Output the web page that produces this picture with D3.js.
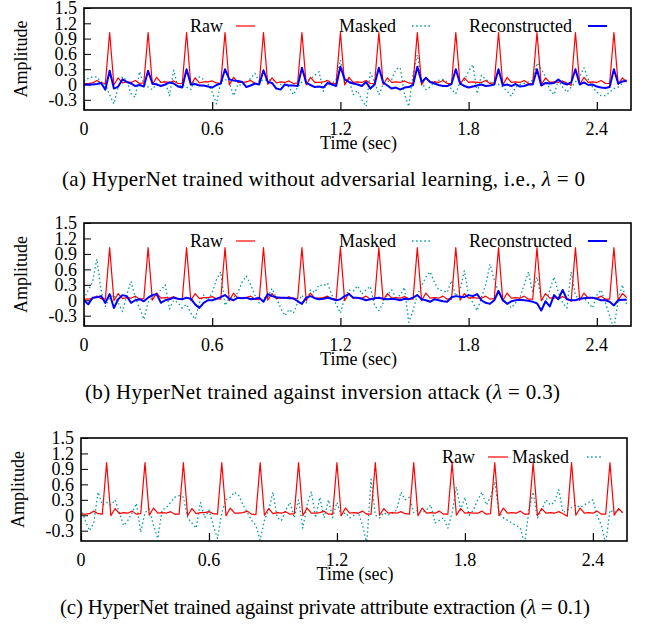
<!DOCTYPE html>
<html>
<head>
<meta charset="utf-8">
<script src="https://cdn.jsdelivr.net/npm/d3@7"></script>
<style>
    body { margin: 0; background: #fff; }
    svg text { font-family: "Liberation Serif", "Times New Roman", serif; fill: #000; }
</style>
</head>
<body>
<div id="chart"></div>
<script>
// 128 samples at 50 Hz
const timeStep = 0.02;
const xTicks = [0, 0.6, 1.2, 1.8, 2.4];
const yTicks = [-0.3, 0, 0.3, 0.6, 0.9, 1.2, 1.5];

const rawSignal = [
    0.02, 0.02, 0.03, 0.08, 0.03, 0.02, 1.02, -0.01, 0.13, 0.03, 0.05, 0.04, 0.08, 0.02, 0.03, 1.02,
    0.00, 0.14, 0.04, 0.05, 0.04, 0.07, 0.02, 0.02, 1.02, -0.01, 0.13, 0.03, 0.05, 0.05, 0.07, 0.03,
    0.02, 1.02, -0.01, 0.14, 0.04, 0.04, 0.05, 0.08, 0.02, 0.01, 1.02, 0.00, 0.13, 0.03, 0.05, 0.04,
    0.07, 0.02, 0.03, 1.02, -0.01, 0.14, 0.04, 0.04, 0.05, 0.08, 0.02, 0.02, 1.02, -0.01, 0.14, 0.04,
    0.05, 0.04, 0.08, 0.02, 0.02, 1.02, 0.00, 0.13, 0.04, 0.05, 0.04, 0.07, 0.03, 0.02, 1.02, -0.01,
    0.14, 0.04, 0.05, 0.04, 0.08, 0.02, 0.02, 1.02, 0.00, 0.13, 0.04, 0.05, 0.04, 0.04, 0.08, 0.02,
    0.03, 1.02, -0.01, 0.14, 0.04, 0.05, 0.04, 0.08, 0.02, 0.02, 1.02, -0.01, 0.13, 0.04, 0.05, 0.04,
    0.07, 0.03, -0.02, 1.02, 0.00, 0.14, 0.04, 0.05, 0.04, 0.08, 0.02, 0.02, 1.02, 0.00, 0.13, 0.05
];

const maskedA = [
    0.06, 0.12, 0.15, 0.15, 0.05, 0.00, -0.20, -0.38, -0.05, 0.15, 0.08, -0.18, -0.25, 0.25, 0.02, -0.05,
    -0.10, 0.02, 0.05, 0.06, -0.22, 0.28, -0.05, 0.00, -0.05, -0.10, 0.12, 0.15, 0.10, 0.02, -0.15, -0.38,
    0.05, 0.10, 0.05, -0.22, 0.00, -0.02, 0.05, 0.12, 0.22, 0.05, 0.10, 0.08, 0.10, 0.05, 0.00, 0.00,
    -0.05, -0.20, -0.05, 0.05, 0.08, 0.10, 0.18, 0.25, -0.13, 0.05, 0.02, 0.10, 0.48, 0.02, 0.10, -0.20,
    -0.12, -0.30, -0.43, 0.23, 0.05, -0.20, 0.00, 0.05, 0.10, 0.30, 0.33, -0.20, -0.43, 0.20, 0.58, 0.05,
    -0.10, -0.05, 0.05, 0.08, 0.10, 0.05, -0.10, -0.18, 0.05, 0.08, 0.26, 0.39, -0.18, 0.18, 0.10, 0.05,
    0.02, 0.00, -0.05, -0.13, -0.23, -0.05, 0.00, 0.02, 0.05, 0.08, 0.42, 0.30, 0.15, -0.10, -0.20, 0.08,
    -0.05, -0.15, -0.05, 0.05, 0.15, 0.33, 0.10, -0.05, -0.15, -0.22, -0.22, -0.15, -0.08, -0.05, 0.02, 0.10
];

const reconA = [
    0.00, 0.00, 0.00, 0.01, 0.03, -0.10, 0.27, -0.08, -0.04, 0.10, 0.05, 0.02, -0.03, -0.01, -0.04, 0.27,
    0.02, 0.00, -0.03, 0.00, 0.04, 0.02, -0.04, -0.06, 0.30, 0.00, 0.01, -0.02, -0.02, -0.04, -0.06, -0.01,
    0.02, 0.30, 0.10, 0.08, 0.07, 0.05, -0.05, -0.02, 0.02, 0.00, 0.28, 0.05, 0.03, -0.08, -0.10, 0.00,
    -0.02, -0.02, -0.03, 0.33, 0.03, -0.01, -0.05, -0.04, -0.06, 0.03, 0.00, -0.03, 0.35, 0.10, 0.05, 0.02,
    0.00, -0.03, 0.05, -0.08, 0.00, 0.33, 0.04, -0.02, -0.08, -0.06, -0.10, -0.06, -0.05, -0.01, 0.35, 0.05,
    0.13, 0.05, 0.02, -0.01, -0.03, -0.03, 0.01, 0.30, 0.02, -0.03, -0.06, -0.04, -0.02, 0.00, -0.03, -0.02,
    0.00, 0.30, -0.02, 0.00, -0.03, 0.01, -0.04, -0.03, 0.00, 0.00, 0.30, -0.02, 0.03, 0.02, 0.03, 0.10,
    0.03, 0.00, 0.04, 0.30, 0.00, 0.04, -0.01, 0.00, -0.04, -0.06, -0.07, -0.05, 0.30, 0.02, 0.06, 0.08
];

const maskedB = [
    0.02, 0.20, 0.35, 0.80, 0.20, -0.12, 0.05, 0.10, -0.05, -0.22, 0.10, 0.37, 0.05, -0.15, -0.37, -0.04,
    0.05, 0.12, 0.20, 0.30, -0.17, 0.00, -0.05, -0.15, -0.08, -0.25, -0.37, -0.05, 0.10, 0.00, 0.15, 0.40,
    0.55, -0.10, 0.05, 0.05, 0.15, 0.35, 0.47, 0.30, 0.10, -0.05, 0.05, 0.05, 0.23, 0.05, -0.15, -0.30,
    -0.18, -0.25, -0.05, 0.10, -0.05, 0.20, 0.15, 0.30, 0.28, 0.33, 0.10, -0.08, -0.25, 0.05, 0.20, 0.18,
    0.28, 0.12, 0.20, 0.27, -0.10, -0.20, -0.05, 0.10, 0.20, 0.05, 0.10, 0.25, -0.43, -0.20, 0.10, 0.28,
    0.45, 0.55, 0.35, 0.20, 0.18, 0.15, 0.38, 0.08, 0.20, 0.57, 0.10, -0.05, -0.20, 0.05, 0.30, 0.70,
    0.40, 0.15, 0.03, -0.05, -0.15, -0.05, 0.05, 0.30, 0.55, 0.15, 0.45, 0.05, -0.05, 0.20, 0.45, 0.15,
    -0.05, -0.15, 0.55, 0.10, 0.00, 0.05, -0.05, -0.15, 0.10, 0.20, -0.05, -0.30, -0.55, 0.00, 0.30, -0.10
];

const reconB = [
    0.00, -0.08, 0.05, 0.06, 0.08, -0.05, 0.12, -0.15, 0.02, 0.10, 0.08, -0.05, 0.00, 0.02, -0.02, 0.05,
    0.10, 0.12, -0.05, 0.00, 0.02, 0.05, 0.03, 0.02, 0.05, 0.03, -0.08, -0.15, -0.05, 0.00, 0.00, 0.03,
    0.06, 0.10, 0.03, 0.00, 0.05, 0.04, 0.05, 0.02, 0.03, 0.05, -0.03, 0.12, 0.08, 0.06, 0.05, 0.05,
    0.04, 0.04, -0.02, -0.07, 0.05, 0.08, 0.04, 0.02, 0.03, 0.05, 0.03, 0.00, 0.02, 0.08, 0.12, 0.05,
    0.05, 0.03, 0.00, 0.02, 0.04, 0.05, 0.03, 0.02, 0.03, 0.02, 0.00, 0.03, 0.02, 0.05, 0.10, 0.02,
    0.00, -0.03, 0.02, 0.00, -0.02, -0.03, 0.06, 0.08, 0.07, 0.06, 0.10, 0.08, 0.12, 0.00, -0.05, -0.07,
    0.00, 0.18, 0.00, -0.07, -0.02, 0.00, 0.01, 0.00, -0.01, -0.03, -0.06, -0.20, -0.02, -0.12, 0.10, 0.02,
    0.20, 0.02, 0.00, 0.00, 0.03, 0.04, 0.05, 0.05, 0.03, 0.00, 0.00, -0.03, -0.10, 0.00, 0.01, 0.01
];

const maskedC = [
    0.13, -0.10, -0.30, -0.15, 0.45, 0.20, 0.25, 0.20, 0.30, 0.05, -0.20, -0.10, 0.05, 0.23, -0.33, 0.05,
    0.12, -0.20, -0.45, 0.10, 0.15, 0.25, 0.35, 0.38, 0.35, -0.05, -0.15, -0.25, 0.25, -0.05, 0.10, -0.20,
    -0.45, 0.05, 0.30, 0.35, 0.45, 0.38, 0.20, 0.05, -0.10, -0.20, -0.48, -0.10, 0.10, 0.45, -0.05, -0.10,
    0.10, 0.25, -0.05, 0.30, -0.25, 0.20, 0.45, -0.05, 0.35, -0.05, 0.30, -0.05, 0.25, 0.00, 0.05, -0.05,
    0.00, 0.05, -0.20, -0.55, 0.70, 0.00, -0.05, 0.05, 0.00, 0.05, 0.10, 0.45, 0.30, 0.35, 0.05, 0.10,
    0.05, 0.10, 0.20, -0.15, -0.10, -0.05, -0.25, 0.05, 0.55, 0.10, 0.35, 0.00, 0.10, 0.30, 0.45, 0.20,
    0.35, 0.65, 0.05, -0.05, -0.10, -0.15, -0.20, -0.25, -0.55, 0.10, 0.45, -0.05, 0.10, 0.30, 0.20, 0.25,
    0.50, 0.05, 0.10, 0.15, 0.20, 0.15, 0.20, 0.25, 0.30, 0.00, -0.20, -0.55, 0.10, 0.05, 0.10, 0.05
];

const seriesStyle = {
    Raw: { color: "#ff0000", width: 1.2, dash: null },
    Masked: { color: "#009b9b", width: 1.3, dash: "1.5,2.6" },
    Reconstructed: { color: "#0000ff", width: 2, dash: null }
};

const panels = [
    {
        box: { left: 84, right: 631, top: 8, bottom: 110 },
        series: [["Raw", rawSignal], ["Masked", maskedA], ["Reconstructed", reconA]],
        drawOrder: ["Masked", "Raw", "Reconstructed"],
        legend: [{ name: "Raw", textEnd: 223, x1: 236, x2: 255 },
                 { name: "Masked", textEnd: 396, x1: 412, x2: 430 },
                 { name: "Reconstructed", textEnd: 572, x1: 588, x2: 607 }],
        legendY: 18,
        caption: ["(a) HyperNet trained without adversarial learning, i.e., ", "λ", " = 0"],
        captionX: 62, captionW: 523,
        captionY: 186
    },
    {
        box: { left: 84, right: 631, top: 223, bottom: 326 },
        series: [["Raw", rawSignal], ["Masked", maskedB], ["Reconstructed", reconB]],
        drawOrder: ["Masked", "Raw", "Reconstructed"],
        legend: [{ name: "Raw", textEnd: 223, x1: 236, x2: 255 },
                 { name: "Masked", textEnd: 396, x1: 412, x2: 430 },
                 { name: "Reconstructed", textEnd: 572, x1: 588, x2: 607 }],
        legendY: 18,
        caption: ["(b) HyperNet trained against inversion attack (", "λ", " = 0.3)"],
        captionX: 85, captionW: 475,
        captionY: 399
    },
    {
        box: { left: 81, right: 627, top: 438, bottom: 541 },
        series: [["Raw", rawSignal], ["Masked", maskedC]],
        drawOrder: ["Masked", "Raw"],
        legend: [{ name: "Raw", textEnd: 475, x1: 488, x2: 508 },
                 { name: "Masked", textEnd: 569, x1: 587, x2: 603 }],
        legendY: 19,
        caption: ["(c) HyperNet trained against private attribute extraction (", "λ", " = 0.1)"],
        captionX: 60, captionW: 530,
        captionY: 614
    }
];

const svg = d3.select("#chart").append("svg")
    .attr("width", 647)
    .attr("height", 625);

panels.forEach((p, pi) => {
    const b = p.box;
    const x = d3.scaleLinear().domain([0, 2.56]).range([b.left, b.right]);
    const y = d3.scaleLinear().domain([-0.5, 1.5]).range([b.bottom, b.top]);
    const g = svg.append("g");

    g.append("clipPath").attr("id", "clip" + pi)
        .append("rect")
        .attr("x", b.left).attr("y", b.top)
        .attr("width", b.right - b.left).attr("height", b.bottom - b.top);

    // y axis: inward ticks, labels on the left
    const yAxis = g.append("g")
        .attr("transform", `translate(${b.left},0)`)
        .call(d3.axisRight(y).tickValues(yTicks).tickSize(7).tickFormat(""));
    yAxis.select(".domain").remove();
    yAxis.selectAll("line").attr("stroke", "#000").attr("stroke-width", 1);
    g.selectAll(".ylab")
        .data(yTicks)
        .enter().append("text")
        .attr("x", b.left - 7)
        .attr("y", d => y(d))
        .attr("dy", "0.35em")
        .attr("text-anchor", "end")
        .attr("font-size", "18px")
        .text(d => d === 0 ? "0" : d.toFixed(1));

    const xAxis = g.append("g")
        .attr("transform", `translate(0,${b.bottom})`)
        .call(d3.axisTop(x).tickValues(xTicks).tickSize(8).tickFormat(""));
    xAxis.select(".domain").remove();
    xAxis.selectAll("line").attr("stroke", "#000").attr("stroke-width", 1.2);
    g.selectAll(".xlab")
        .data(xTicks)
        .enter().append("text")
        .attr("x", d => x(d))
        .attr("y", b.bottom + 25)
        .attr("text-anchor", "middle")
        .attr("font-size", "18px")
        .text(d => d === 0 ? "0" : d.toFixed(1));

    g.append("text")
        .attr("x", (b.left + b.right) / 2 + 1)
        .attr("y", b.bottom + 39)
        .attr("text-anchor", "middle")
        .attr("font-size", "18px")
        .text("Time (sec)");

    g.append("text")
        .attr("transform", `translate(${b.left - 57},${(b.top + b.bottom) / 2}) rotate(-90)`)
        .attr("text-anchor", "middle")
        .attr("font-size", "18px")
        .text("Amplitude");

    const line = d3.line()
        .x((d, i) => x(i * timeStep))
        .y(d => y(d));

    const lines = g.append("g").attr("clip-path", `url(#clip${pi})`);
    const byName = new Map(p.series);
    p.drawOrder.forEach(name => {
        const s = seriesStyle[name];
        lines.append("path")
            .datum(byName.get(name))
            .attr("d", line)
            .attr("fill", "none")
            .attr("stroke", s.color)
            .attr("stroke-width", s.width)
            .attr("stroke-dasharray", s.dash)
            .attr("stroke-linejoin", "round");
    });

    // legend (key) inside the plot
    const ly = b.top + p.legendY;
    p.legend.forEach(k => {
        const s = seriesStyle[k.name];
        g.append("text")
            .attr("x", k.textEnd)
            .attr("y", ly + 6)
            .attr("text-anchor", "end")
            .attr("font-size", "18px")
            .text(k.name);
        g.append("line")
            .attr("x1", k.x1).attr("x2", k.x2)
            .attr("y1", ly).attr("y2", ly)
            .attr("stroke", s.color)
            .attr("stroke-width", s.width)
            .attr("stroke-dasharray", s.dash);
    });

    g.append("rect")
        .attr("x", b.left).attr("y", b.top)
        .attr("width", b.right - b.left).attr("height", b.bottom - b.top)
        .attr("fill", "none")
        .attr("stroke", "#000")
        .attr("stroke-width", 1.6);

    const cap = g.append("text")
        .attr("x", p.captionX)
        .attr("y", p.captionY)
        .attr("font-size", "21px")
        .attr("textLength", p.captionW)
        .attr("lengthAdjust", "spacing");
    p.caption.forEach((part, i) => {
        cap.append("tspan")
            .attr("font-style", i === 1 ? "italic" : null)
            .text(part);
    });
});
</script>
</body>
</html>
